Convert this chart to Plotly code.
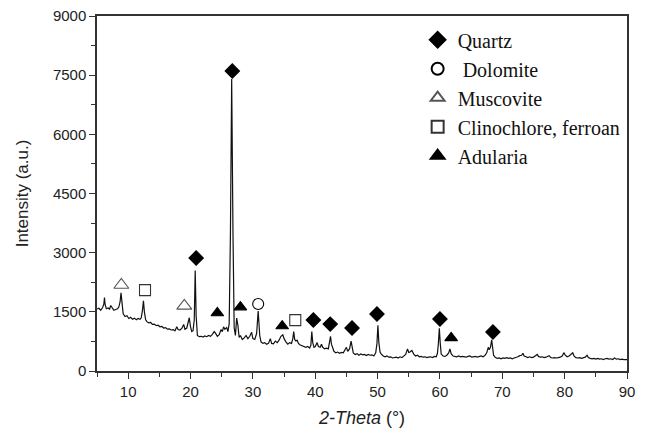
import plotly.graph_objects as go

# ---- XRD pattern ----
two_theta = [
    5.0, 5.3, 5.6, 5.9, 6.1, 6.2, 6.3, 6.5, 6.8, 7.0, 7.2, 7.4, 7.7, 8.0, 8.3, 8.5, 8.7, 8.85, 9.0, 9.2,
    9.5, 9.8, 10.1, 10.4, 10.7, 11.0, 11.3, 11.6, 11.9, 12.1, 12.3, 12.45, 12.6, 12.8, 13.0, 13.3, 13.6, 13.9,
    14.2, 14.5, 14.8, 15.1, 15.4, 15.7, 16.0, 16.3, 16.6, 16.9, 17.2, 17.5, 17.8, 18.0, 18.3, 18.6, 18.9,
    19.1, 19.4, 19.6, 19.8, 20.0, 20.2, 20.4, 20.6, 20.75, 20.9, 21.1, 21.4, 21.7, 22.0, 22.3, 22.6, 22.9,
    23.2, 23.5, 23.8, 24.0, 24.3, 24.6, 24.9, 25.1, 25.3, 25.5, 25.8, 26.0, 26.2, 26.4, 26.6, 26.8, 27.0,
    27.2, 27.4, 27.6, 27.8, 28.0, 28.3, 28.6, 28.9, 29.2, 29.5, 29.8, 30.0, 30.3, 30.6, 30.85, 31.1, 31.3,
    31.6, 31.9, 32.2, 32.5, 32.8, 33.0, 33.3, 33.6, 33.9, 34.2, 34.5, 34.8, 35.0, 35.3, 35.6, 35.9, 36.2,
    36.4, 36.55, 36.7, 36.9, 37.1, 37.3, 37.6, 37.9, 38.2, 38.5, 38.8, 39.1, 39.3, 39.45, 39.6, 39.8, 40.0,
    40.3, 40.5, 40.8, 41.0, 41.2, 41.5, 41.8, 42.1, 42.3, 42.45, 42.6, 42.8, 43.0, 43.3, 43.6, 43.9, 44.2,
    44.5, 44.8, 45.0, 45.2, 45.5, 45.75, 45.9, 46.1, 46.4, 46.7, 47.0, 47.3, 47.6, 47.9, 48.2, 48.5, 48.8,
    49.1, 49.4, 49.7, 49.9, 50.05, 50.2, 50.4, 50.6, 50.9, 51.2, 51.5, 51.8, 52.1, 52.4, 52.7, 53.0, 53.3,
    53.6, 53.9, 54.2, 54.5, 54.8, 55.0, 55.2, 55.5, 55.8, 56.1, 56.4, 56.7, 57.0, 57.3, 57.6, 57.9, 58.2,
    58.5, 58.8, 59.1, 59.4, 59.6, 59.75, 59.9, 60.05, 60.2, 60.5, 60.8, 61.1, 61.4, 61.6, 61.8, 62.1, 62.4,
    62.7, 63.0, 63.3, 63.6, 63.9, 64.2, 64.5, 64.8, 65.1, 65.4, 65.7, 66.0, 66.3, 66.6, 66.9, 67.2, 67.5,
    67.75, 67.9, 68.1, 68.3, 68.45, 68.6, 68.9, 69.2, 69.5, 69.8, 70.1, 70.4, 70.7, 71.0, 71.3, 71.6, 71.9,
    72.2, 72.5, 72.8, 73.1, 73.3, 73.5, 73.8, 74.1, 74.4, 74.7, 75.0, 75.3, 75.6, 75.8, 76.1, 76.4, 76.7,
    77.0, 77.3, 77.5, 77.8, 78.1, 78.4, 78.7, 79.0, 79.3, 79.6, 79.9, 80.1, 80.4, 80.7, 81.0, 81.3, 81.5,
    81.8, 82.1, 82.4, 82.7, 83.0, 83.3, 83.6, 83.8, 84.1, 84.4, 84.7, 85.0, 85.3, 85.6, 85.9, 86.2, 86.5,
    86.8, 87.1, 87.4, 87.7, 88.0, 88.3, 88.6, 88.9, 89.2, 89.5, 89.8, 90.0,
]
intensity = [
    1570, 1590, 1540, 1610, 1700, 1860, 1680, 1580, 1600, 1560, 1660, 1600, 1540, 1560, 1580, 1620, 1750, 1980, 1700, 1450,
    1380, 1400, 1330, 1360, 1310, 1340, 1300, 1330, 1310, 1350, 1550, 1780, 1500, 1300, 1250, 1220, 1230, 1180,
    1190, 1150, 1160, 1120, 1130, 1090, 1100, 1060, 1070, 1040, 1050, 1020, 1120, 1050, 1040, 1080, 1180,
    1060, 1090, 1200, 1350, 1120, 1000, 1020, 1300, 2550, 1400, 900, 870, 880, 860, 890, 870, 900,
    880, 930, 1000, 960, 880, 920, 1050, 1000, 1120, 1060, 1100, 1000, 1200, 3500, 7400, 3600, 1100,
    900, 1340, 1150, 850, 900, 800, 840, 900, 820, 880, 980, 820, 800, 950, 1520, 900, 740,
    700, 720, 680, 700, 820, 700, 690, 760, 720, 780, 880, 920, 820, 740, 680, 720, 700,
    820, 1000, 800, 760, 780, 700, 660, 640, 620, 600, 620, 580, 650, 1000, 720, 600, 620,
    720, 620, 600, 680, 600, 560, 580, 560, 700, 880, 680, 560, 500, 460, 480, 450, 470,
    460, 560, 600, 500, 560, 760, 580, 460, 420, 440, 400, 430, 410, 420, 390, 420, 400,
    410, 380, 460, 700, 1160, 720, 480, 430, 380, 360, 380, 350, 360, 330, 340, 350, 330,
    360, 340, 370, 420, 560, 470, 480, 520, 430, 380, 400, 360, 370, 350, 360, 340, 350,
    360, 340, 370, 360, 450, 700, 1080, 700, 430, 380, 370, 400, 460, 560, 440, 380, 370,
    360, 380, 360, 370, 360, 350, 370, 380, 350, 360, 370, 350, 360, 380, 360, 390, 460,
    600, 540, 600, 790, 560, 400, 340, 320, 330, 310, 330, 320, 340, 320, 330, 310, 330,
    340, 360, 390, 400, 450, 380, 360, 340, 360, 340, 350, 380, 420, 370, 350, 360, 340,
    350, 380, 390, 340, 330, 340, 330, 340, 350, 380, 465, 400, 360, 380, 420, 460, 380,
    340, 330, 340, 320, 330, 350, 400, 340, 320, 310, 320, 300, 320, 300, 310, 290, 310,
    320, 300, 310, 290, 330, 300, 310, 290, 300, 290, 300, 290,
]

# ---- phase marker positions ----
quartz_x = [20.9, 26.7, 39.7, 42.4, 45.9, 49.9, 60.0, 68.5]
quartz_y = [2865, 7605, 1293, 1190, 1090, 1445, 1318, 990]
dolomite_x = [30.85]
dolomite_y = [1700]
muscovite_x = [8.9, 19.0]
muscovite_y = [2180, 1650]
clinochlore_x = [12.7, 36.8]
clinochlore_y = [2050, 1290]
adularia_x = [24.3, 28.0, 34.7, 61.8]
adularia_y = [1470, 1620, 1140, 840]

x_ticks = [10, 20, 30, 40, 50, 60, 70, 80, 90]
y_ticks = [0, 1500, 3000, 4500, 6000, 7500, 9000]

fig = go.Figure()
fig.add_trace(go.Scatter(x=two_theta, y=intensity, mode="lines",
                         line=dict(color="#111111", width=1.2), showlegend=False,
                         hoverinfo="skip"))

phases = [
    ("Quartz", quartz_x, quartz_y, "diamond", "black", "black", 11),
    (" Dolomite", dolomite_x, dolomite_y, "circle-open", "black", "black", 11),
    ("Muscovite", muscovite_x, muscovite_y, "triangle-up-open", "#555555", "#555555", 13),
    ("Clinochlore, ferroan", clinochlore_x, clinochlore_y, "square-open", "#333333", "#333333", 11),
    ("Adularia", adularia_x, adularia_y, "triangle-up", "black", "black", 11),
]
for i, (name, xs, ys, sym, col, lcol, sz) in enumerate(phases):
    fig.add_trace(go.Scatter(
        x=xs, y=ys, mode="markers", name=name, legendgroup=f"g{i}",
        marker=dict(symbol=sym, size=sz, color=col, line=dict(color=lcol, width=1.1)),
    ))

axis_common = dict(
    showgrid=False, zeroline=False, showline=True, linecolor="#333333", linewidth=1.5,
    mirror=True, ticks="outside", ticklen=6, tickwidth=1.2, tickcolor="#333333",
    automargin=False, ticklabeloverflow="allow",
    tickfont=dict(family="Liberation Sans, Arial", size=15, color="#222222"),
)
fig.update_xaxes(range=[5, 90], tickvals=x_ticks,
                 minor=dict(dtick=5, tick0=5, ticks="outside", ticklen=4, tickcolor="#333333"),
                 title=dict(text="<i>2-Theta</i> (°)", font=dict(family="Liberation Sans, Arial", size=18, color="#222222"),
                            standoff=14),
                 **axis_common)
fig.update_yaxes(range=[0, 9000], tickvals=y_ticks,
                 minor=dict(dtick=750, tick0=0, ticks="outside", ticklen=4, tickcolor="#333333"),
                 title=dict(text="Intensity (a.u.)", font=dict(family="Liberation Sans, Arial", size=17, color="#222222"),
                            standoff=20),
                 **axis_common)

fig.update_layout(
    width=651, height=428,
    margin=dict(l=97, r=24, t=16, b=57),
    paper_bgcolor="white", plot_bgcolor="white",
    legend=dict(x=0.605, y=0.988, xanchor="left", yanchor="top",
                bgcolor="rgba(0,0,0,0)", borderwidth=0,
                font=dict(family="Liberation Serif, Times New Roman", size=20, color="#111111"),
                traceorder="grouped", tracegroupgap=0, itemsizing="constant"),
)

# remove the default 8 px page margin so the figure sits at the window's corner
fig.write_html("out.html", config={"displayModeBar": False},
               post_script="document.body.style.margin='0px';")
